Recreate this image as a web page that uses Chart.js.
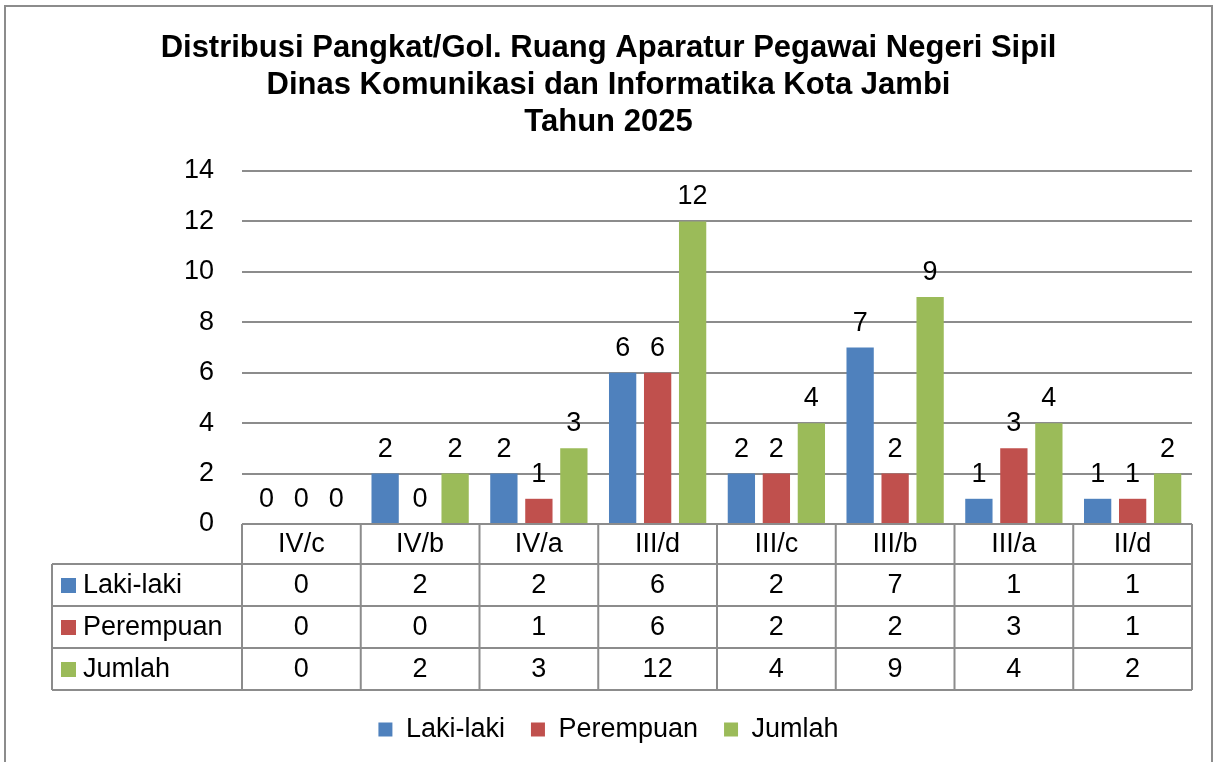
<!DOCTYPE html>
<html>
<head>
<meta charset="utf-8">
<script src="https://cdn.jsdelivr.net/npm/chart.js@4"></script>
<style>
  html, body { margin: 0; padding: 0; background: #fff; }
  #wrap { width: 1217px; height: 762px; }
</style>
</head>
<body>
<div id="wrap"><canvas id="grafik" width="1217" height="762"></canvas></div>
<script>
// Data pangkat / golongan
const golongan = ['IV/c', 'IV/b', 'IV/a', 'III/d', 'III/c', 'III/b', 'III/a', 'II/d'];
const lakiLaki = [0, 2, 2, 6, 2, 7, 1, 1];
const perempuan = [0, 0, 1, 6, 2, 2, 3, 1];
const jumlah = [0, 2, 3, 12, 4, 9, 4, 2];
const namaSeri = ['Laki-laki', 'Perempuan', 'Jumlah'];
const warnaSeri = ['#4F81BD', '#C0504D', '#9BBB59'];
const judul = [
    'Distribusi Pangkat/Gol. Ruang Aparatur Pegawai Negeri Sipil',
    'Dinas Komunikasi dan Informatika Kota Jambi',
    'Tahun 2025'
];

const FONT = '"Liberation Sans", Arial, sans-serif';
const UKURAN = 27;
const GARIS = '#8c8c8c';
const TINGGI_TABEL = 166;

// Bingkai luar
const bingkaiPlugin = {
    id: 'bingkai',
    afterDraw(chart) {
        const ctx = chart.ctx;
        ctx.save();
        ctx.strokeStyle = '#8c8c8c';
        ctx.lineWidth = 2;
        ctx.strokeRect(5, 6, 1207, 780);
        ctx.restore();
    }
};

// Label nilai di atas batang
const labelPlugin = {
    id: 'labelNilai',
    afterDatasetsDraw(chart) {
        const ctx = chart.ctx;
        ctx.save();
        ctx.font = UKURAN + 'px ' + FONT;
        ctx.fillStyle = '#000';
        ctx.textAlign = 'center';
        ctx.textBaseline = 'alphabetic';
        chart.data.datasets.forEach((ds, i) => {
            chart.getDatasetMeta(i).data.forEach((bar, j) => {
                ctx.fillText(ds.data[j], bar.x, bar.y - 17);
            });
        });
        ctx.restore();
    }
};

// Tabel data di bawah grafik
const tabelPlugin = {
    id: 'tabelData',
    afterDraw(chart) {
        const ctx = chart.ctx;
        const x = chart.scales.x;
        const area = chart.chartArea;
        const kiri = area.left, kanan = area.right;
        const lebarKol = (kanan - kiri) / golongan.length;
        const atas = area.bottom;
        const tinggiHeader = 40;
        const tinggiBaris = 42;
        const kiriLabel = 52;
        const bawah = atas + tinggiHeader + tinggiBaris * 3;

        ctx.save();
        ctx.strokeStyle = GARIS;
        ctx.lineWidth = 2;
        ctx.beginPath();
        // garis horizontal
        ctx.moveTo(kiri, atas); ctx.lineTo(kanan, atas);
        for (let r = 0; r <= 3; r++) {
            const y = atas + tinggiHeader + r * tinggiBaris;
            ctx.moveTo(kiriLabel, y); ctx.lineTo(kanan, y);
        }
        // garis vertikal
        ctx.moveTo(kiriLabel, atas + tinggiHeader); ctx.lineTo(kiriLabel, bawah);
        for (let c = 0; c <= golongan.length; c++) {
            const xx = kiri + c * lebarKol;
            ctx.moveTo(xx, atas); ctx.lineTo(xx, bawah);
        }
        ctx.stroke();

        ctx.font = UKURAN + 'px ' + FONT;
        ctx.fillStyle = '#000';
        ctx.textBaseline = 'middle';
        ctx.textAlign = 'center';
        golongan.forEach((g, i) => {
            ctx.fillText(g, x.getPixelForValue(i), atas + tinggiHeader / 2 + 1);
        });
        const semua = [lakiLaki, perempuan, jumlah];
        semua.forEach((baris, r) => {
            const yTengah = atas + tinggiHeader + r * tinggiBaris + tinggiBaris / 2 + 1;
            ctx.textAlign = 'center';
            ctx.fillStyle = '#000';
            baris.forEach((v, i) => {
                ctx.fillText(v, x.getPixelForValue(i), yTengah);
            });
            ctx.fillStyle = warnaSeri[r];
            ctx.fillRect(kiriLabel + 9, yTengah - 8, 15, 15);
            ctx.fillStyle = '#000';
            ctx.textAlign = 'left';
            ctx.fillText(namaSeri[r], kiriLabel + 31, yTengah);
        });
        ctx.restore();
    }
};

const ctx = document.getElementById('grafik').getContext('2d');
new Chart(ctx, {
    type: 'bar',
    data: {
        labels: golongan,
        datasets: [
            { label: namaSeri[0], data: lakiLaki, backgroundColor: warnaSeri[0] },
            { label: namaSeri[1], data: perempuan, backgroundColor: warnaSeri[1] },
            { label: namaSeri[2], data: jumlah, backgroundColor: warnaSeri[2] }
        ]
    },
    options: {
        responsive: false,
        animation: false,
        devicePixelRatio: 1,
        categoryPercentage: 0.884,
        barPercentage: 0.78,
        layout: { padding: { top: 30, right: 25, bottom: 9, left: 25 } },
        plugins: {
            title: {
                display: true,
                text: judul,
                color: '#000',
                font: { family: FONT, size: 31, weight: 'bold', lineHeight: 1.194 },
                padding: { top: 0, bottom: 30 }
            },
            legend: {
                position: 'bottom',
                labels: {
                    color: '#000',
                    boxWidth: 14,
                    boxHeight: 14,
                    padding: 26,
                    font: { family: FONT, size: UKURAN }
                }
            },
            tooltip: { enabled: false }
        },
        scales: {
            x: {
                grid: { display: false, drawTicks: false },
                border: { display: false },
                ticks: { display: false },
                afterFit(scale) { scale.height = TINGGI_TABEL; }
            },
            y: {
                min: 0,
                max: 14,
                ticks: {
                    stepSize: 2,
                    padding: 28,
                    color: '#000',
                    font: { family: FONT, size: UKURAN }
                },
                grid: { color: GARIS, lineWidth: 2, drawTicks: false },
                border: { display: false },
                afterFit(scale) { scale.width = 217; }
            }
        }
    },
    plugins: [bingkaiPlugin, labelPlugin, tabelPlugin]
});
</script>
</body>
</html>
